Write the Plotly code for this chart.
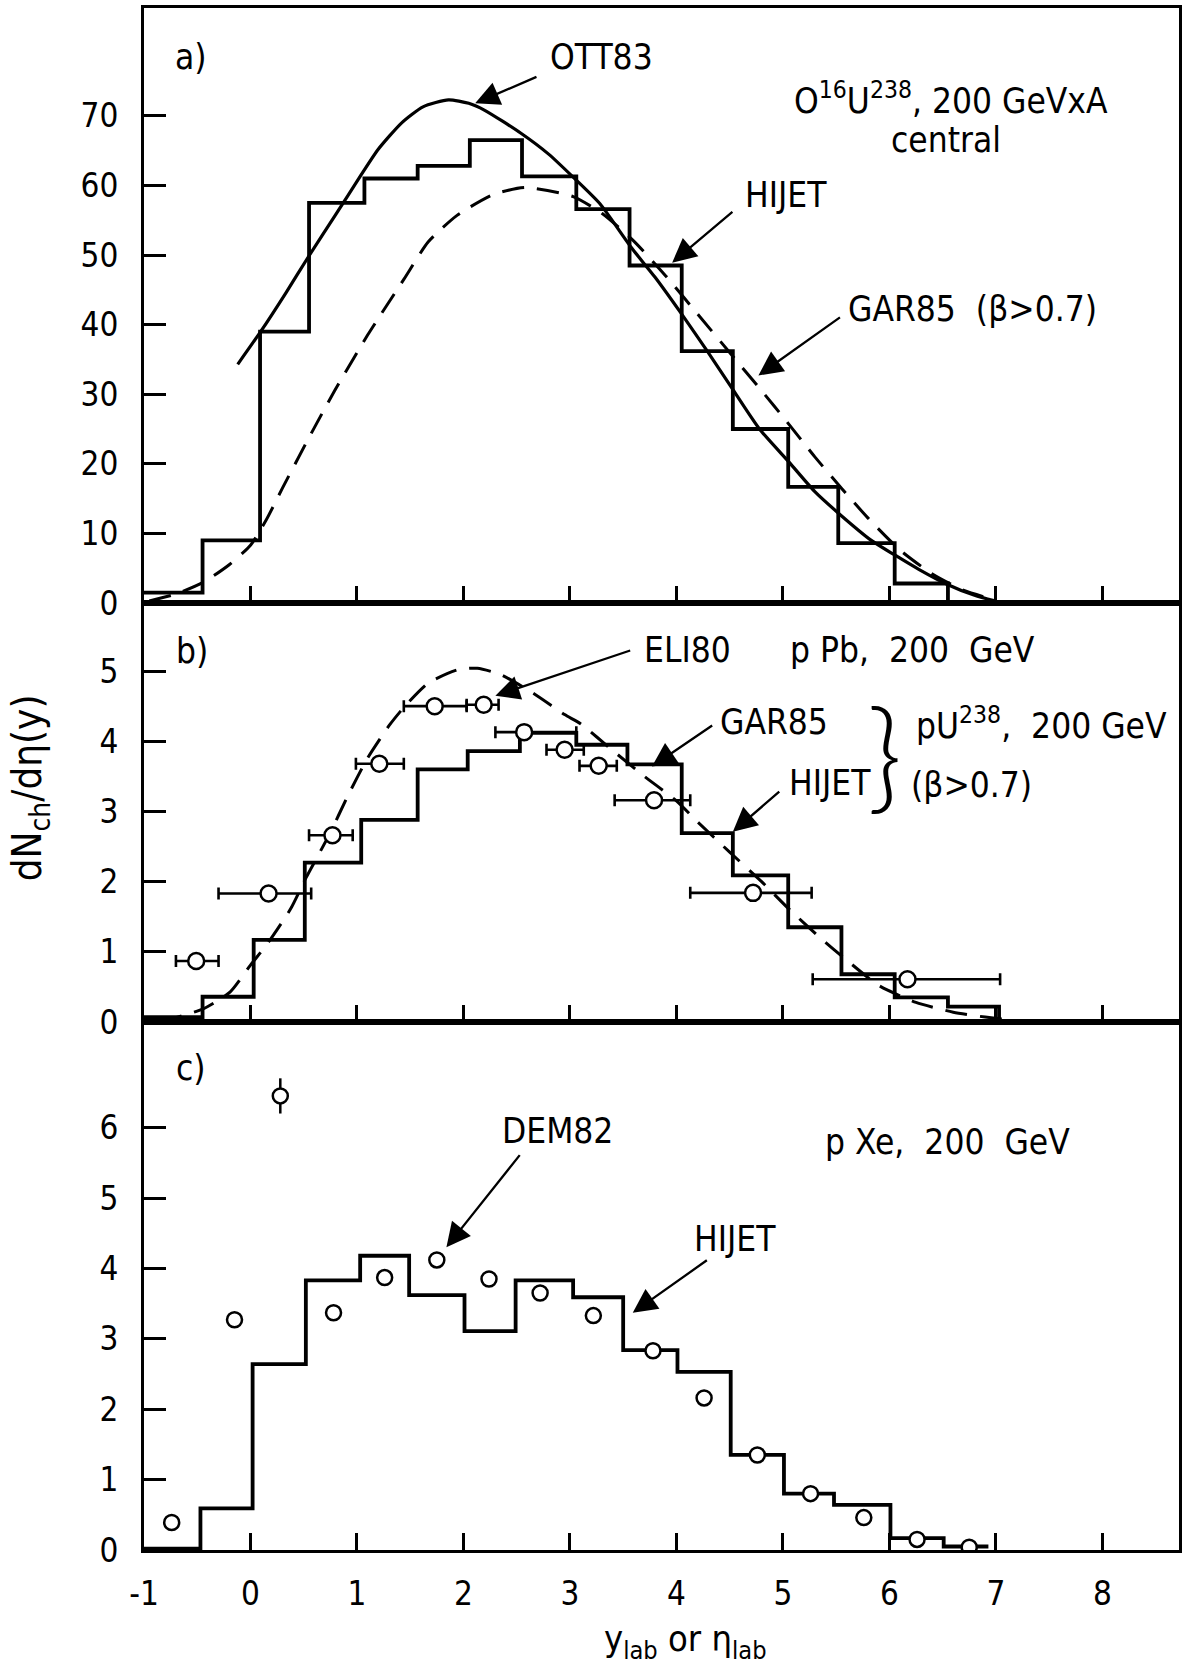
import plotly.graph_objects as go

# ---------------- data ----------------
# Panel a) O16 U238, 200 GeV x A central
hijet_a_edges = [-1.0, -0.45, 0.09, 0.55, 1.07, 1.57, 2.06, 2.55, 3.06, 3.56, 4.05, 4.53, 5.05, 5.52, 6.05, 6.55, 7.0]
hijet_a_vals = [1.5, 9.0, 39.0, 57.5, 61.0, 62.8, 66.5, 61.3, 56.6, 48.5, 36.2, 25.0, 16.7, 8.6, 2.8, 0.0]

ott83_x = [-0.12, 0.1, 0.33, 0.55, 0.8, 1.03, 1.2, 1.42, 1.62, 1.86, 2.05, 2.2, 2.54, 2.8, 3.03, 3.28, 3.58, 3.8, 4.05, 4.29, 4.52, 4.78, 5.06, 5.3, 5.53, 5.83, 6.05, 6.28, 6.54, 6.8, 6.99]
ott83_y = [34.3, 39.1, 44.5, 49.9, 55.8, 61.3, 65.2, 69.0, 71.3, 72.3, 71.8, 70.8, 67.5, 64.5, 61.2, 57.4, 51.0, 46.8, 41.5, 36.2, 30.9, 25.0, 20.2, 16.0, 12.8, 9.0, 6.9, 4.8, 2.7, 1.1, 0.3]

gar85a_x = [-0.95, -0.7, -0.44, -0.2, 0.0, 0.15, 0.3, 0.54, 0.79, 1.1, 1.44, 1.67, 1.94, 2.28, 2.58, 3.03, 3.3, 3.6, 3.9, 4.2, 4.5, 4.8, 5.04, 5.3, 5.55, 5.8, 6.1, 6.4, 6.7, 7.0]
gar85a_y = [0.3, 1.3, 3.0, 5.5, 8.3, 12.0, 16.5, 23.5, 30.5, 38.5, 46.5, 51.9, 55.7, 58.7, 59.7, 58.4, 56.0, 52.0, 47.0, 41.5, 36.0, 30.5, 26.0, 21.0, 16.5, 12.2, 7.6, 4.2, 1.8, 0.4]

# Panel b) p Pb / p U238, 200 GeV
hijet_b_edges = [-1.0, -0.45, 0.03, 0.51, 1.04, 1.57, 2.04, 2.53, 3.06, 3.54, 4.05, 4.53, 5.05, 5.55, 6.05, 6.55, 7.03, 7.3]
hijet_b_vals = [0.07, 0.36, 1.17, 2.27, 2.88, 3.6, 3.86, 4.12, 3.95, 3.67, 2.69, 2.09, 1.35, 0.68, 0.35, 0.22, 0.0]

gar85b_x = [-0.85, -0.44, -0.19, 0.0, 0.17, 0.38, 0.52, 0.74, 0.92, 1.1, 1.31, 1.45, 1.67, 1.95, 2.13, 2.35, 2.67, 2.95, 3.1, 3.4, 3.7, 4.0, 4.2, 4.5, 4.8, 5.05, 5.35, 5.6, 5.9, 6.25, 6.6, 6.9, 7.2, 7.5]
gar85b_y = [0.0, 0.19, 0.43, 0.81, 1.14, 1.62, 2.05, 2.67, 3.24, 3.76, 4.24, 4.5, 4.83, 5.02, 5.04, 4.95, 4.67, 4.38, 4.25, 3.87, 3.5, 3.15, 2.85, 2.42, 2.0, 1.62, 1.2, 0.88, 0.52, 0.28, 0.14, 0.07, 0.02, 0.0]

eli80_x = [-0.51, 0.17, 0.77, 1.21, 1.73, 2.19, 2.57, 2.95, 3.27, 3.79, 4.72, 6.17]
eli80_y = [0.87, 1.83, 2.66, 3.68, 4.5, 4.52, 4.13, 3.88, 3.65, 3.16, 1.84, 0.61]
eli80_xlo = [-0.70, -0.30, 0.55, 0.99, 1.44, 2.03, 2.30, 2.78, 3.09, 3.42, 4.13, 5.28]
eli80_xhi = [-0.30, 0.57, 0.96, 1.44, 2.03, 2.33, 3.06, 3.13, 3.44, 4.13, 5.27, 7.04]

# Panel c) p Xe, 200 GeV
hijet_c_edges = [-1.0, -0.47, 0.02, 0.52, 1.03, 1.49, 2.01, 2.49, 3.03, 3.5, 4.01, 4.51, 5.01, 5.48, 6.01, 6.51, 6.93]
hijet_c_vals = [0.02, 0.59, 2.64, 3.83, 4.18, 3.62, 3.11, 3.83, 3.59, 2.84, 2.53, 1.35, 0.8, 0.64, 0.17, 0.05]

dem82_x = [-0.74, -0.15, 0.28, 0.78, 1.26, 1.75, 2.24, 2.72, 3.22, 3.78, 4.26, 4.76, 5.26, 5.76, 6.26, 6.75]
dem82_y = [0.39, 3.27, 6.45, 3.37, 3.87, 4.12, 3.85, 3.65, 3.33, 2.83, 2.16, 1.35, 0.8, 0.46, 0.15, 0.04]
dem82_yerr = [0, 0, 0.25, 0, 0, 0, 0, 0, 0, 0, 0, 0, 0, 0, 0, 0]

# tick values / labels
x_ticks = [-1, 0, 1, 2, 3, 4, 5, 6, 7, 8]
x_ticktext = ["-1", "0", "1", "2", "3", "4", "5", "6", "7", "8"]
ya_ticks = [0, 10, 20, 30, 40, 50, 60, 70]
yb_ticks = [0, 1, 2, 3, 4, 5]
yc_ticks = [0, 1, 2, 3, 4, 5, 6]

# ---------------- styling ----------------
FONT = "DejaVu Sans Condensed, Liberation Sans Narrow, DejaVu Sans, sans-serif"
FS = 35        # annotation text
FT = 33        # tick labels
BLACK = "black"
DASH = "22px,13px"

fig = go.Figure()


def step_trace(edges, vals, xa, ya):
    return go.Scatter(x=edges, y=list(vals) + [vals[-1]], mode="lines",
                      line=dict(shape="hv", color=BLACK, width=3.8),
                      xaxis=xa, yaxis=ya, hoverinfo="skip")


# Panel a
fig.add_trace(step_trace(hijet_a_edges, hijet_a_vals, "x", "y"))
fig.add_trace(go.Scatter(x=ott83_x, y=ott83_y, mode="lines",
                         line=dict(shape="spline", smoothing=0.6, color=BLACK, width=3.2),
                         xaxis="x", yaxis="y"))
fig.add_trace(go.Scatter(x=gar85a_x, y=gar85a_y, mode="lines",
                         line=dict(shape="spline", smoothing=0.6, color=BLACK, width=3, dash=DASH),
                         xaxis="x", yaxis="y"))

# Panel b
fig.add_trace(step_trace(hijet_b_edges, hijet_b_vals, "x2", "y2"))
fig.add_trace(go.Scatter(x=gar85b_x, y=gar85b_y, mode="lines",
                         line=dict(shape="spline", smoothing=0.6, color=BLACK, width=3, dash=DASH),
                         xaxis="x2", yaxis="y2"))
fig.add_trace(go.Scatter(
    x=eli80_x, y=eli80_y, mode="markers",
    marker=dict(symbol="circle", size=16, color="white", line=dict(color=BLACK, width=2.5)),
    error_x=dict(type="data", symmetric=False,
                 array=[h - x for h, x in zip(eli80_xhi, eli80_x)],
                 arrayminus=[x - l for l, x in zip(eli80_xlo, eli80_x)],
                 color=BLACK, thickness=2.6, width=6),
    xaxis="x2", yaxis="y2"))

# Panel c
fig.add_trace(step_trace(hijet_c_edges, hijet_c_vals, "x3", "y3"))
fig.add_trace(go.Scatter(
    x=dem82_x, y=dem82_y, mode="markers",
    marker=dict(symbol="circle", size=15, color="white", line=dict(color=BLACK, width=2.5)),
    error_y=dict(type="data", array=dem82_yerr, color=BLACK, thickness=2.5, width=0),
    xaxis="x3", yaxis="y3"))

# ---------------- axes ----------------
L, R, T, B = 144, 3, 8, 123
W, H = 1185, 1673
plot_h = H - T - B
y_c_top = 1022
y_b_top = 603
dom_c = [0, (H - B - y_c_top) / plot_h]
dom_b = [dom_c[1], (H - B - y_b_top) / plot_h]
dom_a = [dom_b[1], 1]

common_x = dict(range=[-1, 8.72], tickvals=x_ticks, ticktext=x_ticktext, ticks="inside",
                ticklen=17, tickwidth=2.5, tickcolor=BLACK, showline=True, linewidth=3,
                linecolor=BLACK, mirror=True, showgrid=False, zeroline=False)
common_y = dict(ticks="inside", ticklen=22, tickwidth=2.5, tickcolor=BLACK, showline=True,
                linewidth=3, linecolor=BLACK, mirror=True, showgrid=False, zeroline=False,
                ticklabelstandoff=16, tickfont=dict(size=FT))

fig.update_layout(
    width=W, height=H,
    margin=dict(l=L, r=R, t=T, b=B),
    paper_bgcolor="white", plot_bgcolor="white",
    font=dict(family=FONT, size=FS, color=BLACK),
    showlegend=False,
    xaxis=dict(domain=[0, 1], anchor="y", showticklabels=False, **common_x),
    xaxis2=dict(domain=[0, 1], anchor="y2", matches="x", showticklabels=False, **common_x),
    xaxis3=dict(domain=[0, 1], anchor="y3", matches="x", showticklabels=True,
                ticklabelstandoff=12, tickfont=dict(size=FT), **common_x),
    yaxis=dict(domain=dom_a, anchor="x", range=[0, 85.5], tickvals=ya_ticks, **common_y),
    yaxis2=dict(domain=dom_b, anchor="x2", range=[0, 5.97], tickvals=yb_ticks, **common_y),
    yaxis3=dict(domain=dom_c, anchor="x3", range=[0, 7.5], tickvals=yc_ticks, **common_y),
)

# ---------------- annotations ----------------
def txt(x, y, s, xr, yr, size=FS, **kw):
    fig.add_annotation(x=x, y=y, xref=xr, yref=yr, text=s, showarrow=False,
                       xanchor="center", yanchor="middle", font=dict(size=size), **kw)


def arrow(x0, y0, x1, y1, xr, yr):
    fig.add_annotation(x=x1, y=y1, ax=x0, ay=y0, xref=xr, yref=yr, axref=xr, ayref=yr,
                       text="", showarrow=True, arrowhead=2, arrowsize=2.1, arrowwidth=2.3,
                       arrowcolor=BLACK, standoff=0)


# panel a
txt(-0.56, 78.5, "a)", "x", "y")
txt(3.3, 78.5, "OTT83", "x", "y")
txt(6.58, 72.6, "O<sup>16</sup>U<sup>238</sup>, 200 GeVxA", "x", "y")
txt(6.53, 66.5, "central", "x", "y")
txt(5.03, 58.6, "HIJET", "x", "y")
txt(6.78, 42.3, "GAR85  (β>0.7)", "x", "y")
arrow(2.70, 75.7, 2.11, 71.8, "x", "y")
arrow(4.54, 56.4, 3.96, 48.9, "x", "y")
arrow(5.55, 41.2, 4.77, 32.7, "x", "y")

# panel b
txt(-0.55, 5.28, "b)", "x2", "y2")
txt(4.1, 5.3, "ELI80", "x2", "y2")
txt(6.22, 5.3, "p Pb,  200  GeV", "x2", "y2")
txt(4.92, 4.28, "GAR85", "x2", "y2")
fig.add_annotation(x=5.95, y=3.85, xref="x2", yref="y2", text="}", showarrow=False,
                   xanchor="center", yanchor="middle",
                   font=dict(family="Lato", size=120, weight=300))
txt(7.43, 4.26, "pU<sup>238</sup>,  200 GeV", "x2", "y2")
txt(5.44, 3.4, "HIJET", "x2", "y2")
txt(6.77, 3.37, "(β>0.7)", "x2", "y2")
arrow(3.58, 5.3, 2.30, 4.65, "x2", "y2")
arrow(4.35, 4.24, 3.77, 3.64, "x2", "y2")
arrow(4.98, 3.3, 4.53, 2.71, "x2", "y2")

# panel c
txt(-0.56, 6.85, "c)", "x3", "y3")
txt(2.88, 5.95, "DEM82", "x3", "y3")
txt(6.55, 5.8, "p Xe,  200  GeV", "x3", "y3")
txt(4.55, 4.42, "HIJET", "x3", "y3")
arrow(2.54, 5.63, 1.84, 4.3, "x3", "y3")
arrow(4.3, 4.13, 3.59, 3.37, "x3", "y3")

# axis titles
fig.add_annotation(x=(30 - L) / (W - L - R), y=(H - B - 788) / plot_h, xref="paper", yref="paper",
                   text="dN<sub>ch</sub>/dη(y)", textangle=-90, showarrow=False,
                   xanchor="center", yanchor="middle", font=dict(size=40))
fig.add_annotation(x=4.09, y=(H - B - 1667) / plot_h, xref="x3", yref="paper",
                   text="y<sub>lab</sub> or η<sub>lab</sub>", showarrow=False,
                   xanchor="center", yanchor="bottom", font=dict(size=36))

fig.write_html("out.html")
